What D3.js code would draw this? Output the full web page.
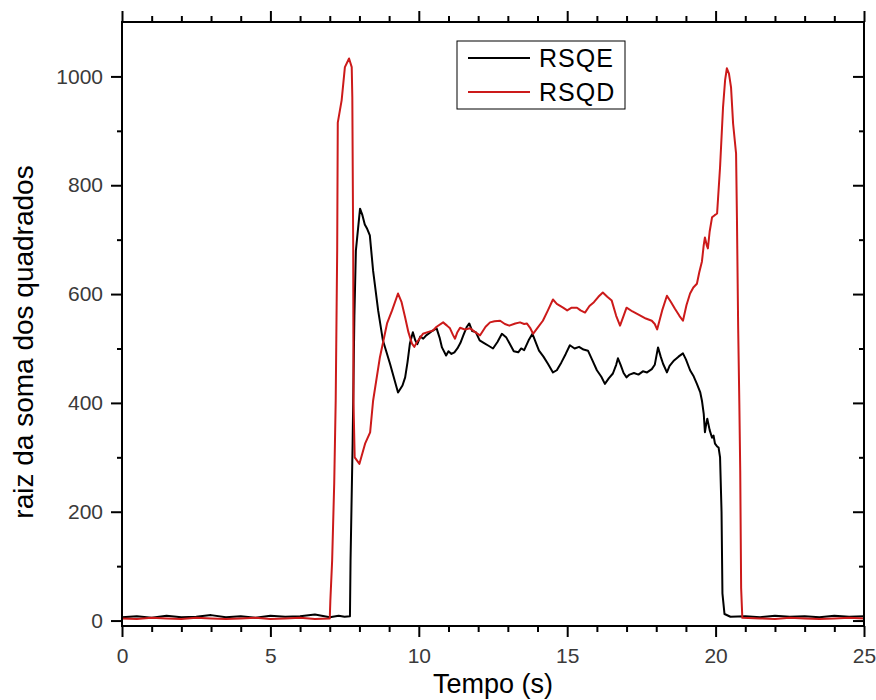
<!DOCTYPE html>
<html>
<head>
<meta charset="utf-8">
<script src="https://cdn.jsdelivr.net/npm/d3@7"></script>
<style>
  body { margin: 0; background: #fff; }
  svg text { font-family: "Liberation Sans", Arial, sans-serif; }
</style>
</head>
<body>
<svg id="chart" width="876" height="700"></svg>
<script>
// RSQE (black) - time (s) and value
const timeE = [0, 0.5, 1, 1.5, 2, 2.5, 3, 3.5, 4, 4.5, 5, 5.5, 6, 6.5, 7, 7.3, 7.5, 7.68,
  7.7, 7.77, 7.83, 7.88, 8.02, 8.1, 8.18, 8.25, 8.35, 8.46, 8.63, 8.79, 9.03, 9.3,
  9.45, 9.54, 9.62, 9.7, 9.8, 9.88, 9.95, 10.05, 10.15, 10.25, 10.35, 10.47, 10.6, 10.7,
  10.78, 10.92, 11.0, 11.1, 11.2, 11.3, 11.4, 11.5, 11.62, 11.7, 11.8, 11.92, 12.05, 12.2,
  12.35, 12.5, 12.65, 12.8, 12.95, 13.05, 13.2, 13.35, 13.45, 13.55, 13.7, 13.83, 13.95,
  14.05, 14.2, 14.35, 14.52, 14.65, 14.8, 14.95, 15.09, 15.25, 15.4, 15.55, 15.7, 15.85,
  16.0, 16.15, 16.27, 16.4, 16.54, 16.65, 16.71, 16.8, 16.9, 17.0, 17.1, 17.25, 17.4, 17.55,
  17.69, 17.85, 17.95, 18.06, 18.15, 18.23, 18.36, 18.45, 18.6, 18.75, 18.9, 19.0, 19.14,
  19.25, 19.37, 19.48, 19.54, 19.6, 19.64, 19.68, 19.72, 19.8, 19.88, 19.93, 19.98, 20.05,
  20.1, 20.15, 20.2, 20.23, 20.3, 20.5, 21, 21.5, 22, 22.5, 23, 23.5, 24, 24.5, 25];
const valueE = [6, 8, 5, 9, 6, 7, 10, 6, 8, 5, 9, 7, 8, 11, 6, 9, 7, 8,
  110, 325, 560, 680, 757, 745, 728, 721, 708, 643, 570, 515, 472, 419,
  432, 447, 475, 509, 530, 515, 508, 522, 518, 524, 528, 533, 537, 520,
  502, 487, 495, 490, 493, 500, 510, 524, 540, 546, 532, 530, 515, 510,
  505, 500, 512, 527, 520, 510, 495, 493, 500, 497, 515, 527, 510,
  496, 485, 472, 456, 460, 474, 490, 506, 500, 503, 498, 496, 478,
  460, 448, 435, 445, 454, 470, 482, 470, 455, 447, 452, 455, 452, 458,
  456, 462, 470, 502, 485, 472, 456, 468, 478, 485, 491, 480, 460,
  450, 435, 420, 404, 380, 346, 360, 371, 350, 336, 340, 325, 320,
  318, 300, 200, 50, 12, 7, 8, 6, 9, 7, 8, 6, 9, 7, 8];

// RSQD (red)
const timeD = [0, 0.5, 1, 1.5, 2, 2.5, 3, 3.5, 4, 4.5, 5, 5.5, 6, 6.5, 7.0,
  7.02, 7.08, 7.15, 7.2, 7.25, 7.27, 7.4, 7.51, 7.65, 7.74, 7.76, 7.79, 7.8, 7.84, 8.0,
  8.19, 8.36, 8.46, 8.69, 8.93, 9.1, 9.3, 9.42, 9.54, 9.65, 9.77, 9.85, 9.93, 10.05, 10.14,
  10.3, 10.48, 10.6, 10.82, 10.95, 11.05, 11.15, 11.22, 11.3, 11.39, 11.55, 11.73, 11.9,
  12.06, 12.25, 12.4, 12.55, 12.74, 12.9, 13.05, 13.25, 13.41, 13.55, 13.64, 13.75, 13.85,
  14.0, 14.18, 14.35, 14.52, 14.65, 14.86, 15.0, 15.15, 15.33, 15.45, 15.6, 15.75, 15.9,
  16.05, 16.2, 16.35, 16.5, 16.65, 16.78, 16.9, 17.0, 17.2, 17.45, 17.65, 17.85, 17.95,
  18.03, 18.2, 18.36, 18.5, 18.63, 18.78, 18.9, 19.02, 19.14, 19.25, 19.37, 19.45, 19.54,
  19.6, 19.64, 19.7, 19.74, 19.8, 19.88, 19.97, 20.05, 20.15, 20.25, 20.32, 20.38, 20.45,
  20.52, 20.59, 20.69, 20.72, 20.76, 20.8, 20.83, 20.86, 20.9, 21.5, 22, 22.5, 23, 23.5,
  24, 24.5, 25];
const valueD = [4, 3, 5, 4, 3, 5, 4, 3, 4, 5, 3, 4, 5, 3, 4,
  37, 110, 252, 404, 680, 915, 956, 1017, 1033, 1017, 961, 680, 400, 300, 288,
  325, 346, 404, 484, 546, 570, 601, 585, 557, 530, 509, 503, 511, 520, 527,
  530, 533, 540, 548, 542, 537, 525, 518, 530, 538, 535, 537, 530,
  524, 540, 548, 550, 551, 545, 542, 546, 548, 545, 546, 538, 527,
  538, 551, 570, 590, 582, 575, 570, 575, 575, 570, 566, 578, 585,
  595, 603, 595, 588, 560, 542, 560, 575, 568, 561, 555, 551, 545,
  535, 570, 597, 585, 573, 560, 551, 580, 601, 612, 619, 640, 660,
  690, 704, 690, 684, 715, 741, 745, 748, 833, 943, 993, 1015, 1005,
  980, 913, 858, 735, 539, 398, 276, 60, 5, 4, 3, 5, 4, 3,
  4, 5, 4];

const xTicks = [0, 5, 10, 15, 20, 25];
const yTicks = [0, 200, 400, 600, 800, 1000];
const seriesNames = ["RSQE", "RSQD"];
const seriesColors = ["#000000", "#cc1a1a"];

const svg = d3.select("#chart");
const plotLeft = 122, plotRight = 864, plotTop = 22, plotBottom = 626;

const x = d3.scaleLinear().domain([0, 25]).range([plotLeft, plotRight]);
const y = d3.scaleLinear().domain([-10, 1100]).range([plotBottom, plotTop]);

const xMinor = d3.range(0, 25.01, 1).filter(d => d % 5 !== 0);
const yMinor = d3.range(100, 1100, 200);

function styleAxis(g) {
  g.select(".domain").remove();
  g.selectAll("line").attr("stroke", "#000").attr("stroke-width", 2);
  g.selectAll("text")
    .attr("font-size", 21)
    .attr("fill", "#3a3a3a");
}

// bottom
svg.append("g").attr("transform", `translate(0,${plotBottom})`)
  .call(d3.axisBottom(x).tickValues(xTicks).tickSize(11).tickPadding(11).tickFormat(d3.format("d")))
  .call(styleAxis);
svg.append("g").attr("transform", `translate(0,${plotBottom})`)
  .call(d3.axisBottom(x).tickValues(xMinor).tickSize(6).tickFormat(""))
  .call(styleAxis);
// top
svg.append("g").attr("transform", `translate(0,${plotTop})`)
  .call(d3.axisTop(x).tickValues(xTicks).tickSize(11).tickFormat(""))
  .call(styleAxis);
svg.append("g").attr("transform", `translate(0,${plotTop})`)
  .call(d3.axisTop(x).tickValues(xMinor).tickSize(6).tickFormat(""))
  .call(styleAxis);
// left
svg.append("g").attr("transform", `translate(${plotLeft},0)`)
  .call(d3.axisLeft(y).tickValues(yTicks).tickSize(11).tickPadding(8).tickFormat(d3.format("d")))
  .call(styleAxis);
svg.append("g").attr("transform", `translate(${plotLeft},0)`)
  .call(d3.axisLeft(y).tickValues(yMinor).tickSize(5).tickFormat(""))
  .call(styleAxis);
// right (ticks inward)
svg.append("g").attr("transform", `translate(${plotRight},0)`)
  .call(d3.axisLeft(y).tickValues(yTicks).tickSize(11).tickFormat(""))
  .call(styleAxis);
svg.append("g").attr("transform", `translate(${plotRight},0)`)
  .call(d3.axisLeft(y).tickValues(yMinor).tickSize(5).tickFormat(""))
  .call(styleAxis);

// series
const line = d3.line().x(d => x(d[0])).y(d => y(d[1]));
const series = [d3.zip(timeE, valueE), d3.zip(timeD, valueD)];
series.forEach((pts, i) => {
  svg.append("path")
    .attr("d", line(pts))
    .attr("fill", "none")
    .attr("stroke", seriesColors[i])
    .attr("stroke-width", 2)
    .attr("stroke-linejoin", "round");
});

// frame
svg.append("rect")
  .attr("x", plotLeft).attr("y", plotTop)
  .attr("width", plotRight - plotLeft).attr("height", plotBottom - plotTop)
  .attr("fill", "none").attr("stroke", "#000").attr("stroke-width", 2);

// legend
const legend = svg.append("g");
legend.append("rect")
  .attr("x", 457).attr("y", 41).attr("width", 168).attr("height", 68)
  .attr("fill", "#fff").attr("stroke", "#000").attr("stroke-width", 1);
seriesNames.forEach((name, i) => {
  const ly = 58 + i * 34;
  legend.append("line")
    .attr("x1", 468).attr("x2", 530).attr("y1", ly).attr("y2", ly)
    .attr("stroke", seriesColors[i]).attr("stroke-width", 2);
  legend.append("text")
    .attr("x", 539).attr("y", ly + 9)
    .attr("font-size", 25).attr("letter-spacing", 1)
    .attr("fill", "#000")
    .text(name);
});

// axis titles
svg.append("text")
  .attr("x", (plotLeft + plotRight) / 2).attr("y", 693)
  .attr("text-anchor", "middle").attr("font-size", 27).attr("fill", "#000")
  .text("Tempo (s)");
svg.append("text")
  .attr("transform", "translate(33,342) rotate(-90)")
  .attr("text-anchor", "middle").attr("font-size", 28).attr("fill", "#000")
  .text("raiz da soma dos quadrados");
</script>
</body>
</html>
